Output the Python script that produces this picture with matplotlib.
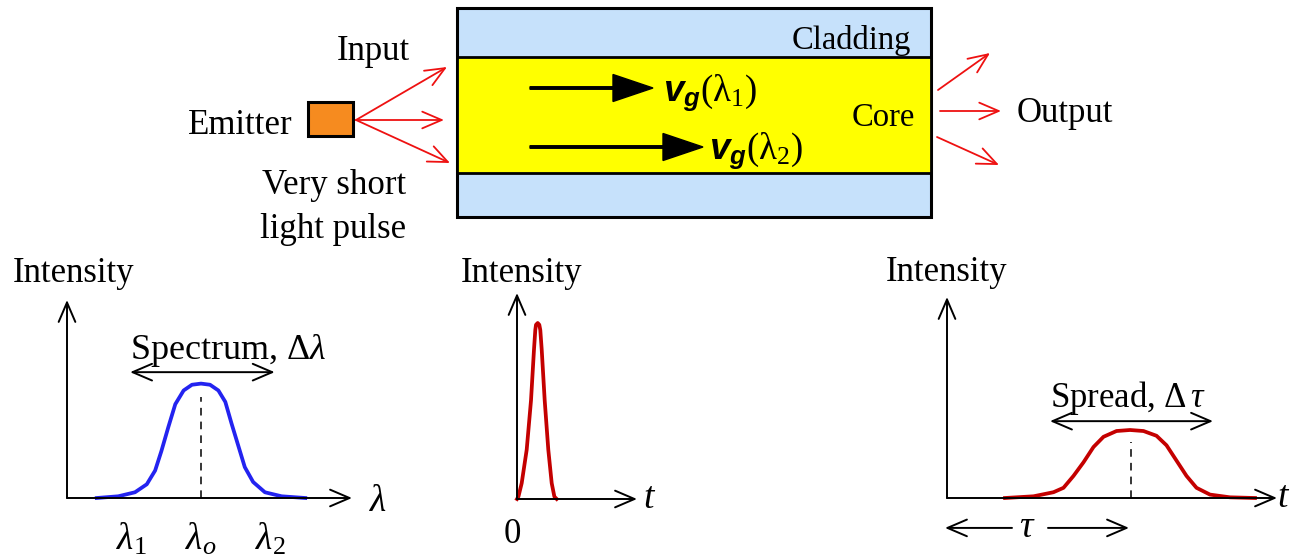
import matplotlib.pyplot as plt
from matplotlib.patches import Rectangle

plt.rcParams['font.family'] = 'Liberation Serif'
plt.rcParams['mathtext.fontset'] = 'custom'
plt.rcParams['mathtext.rm'] = 'Liberation Serif'
plt.rcParams['mathtext.it'] = 'Liberation Serif:italic'
plt.rcParams['mathtext.bf'] = 'Liberation Sans:italic:bold'

W, H = 1295, 559
FS = 25

# input spectrum: wavelength offset from lambda_o (lambda_1 = -1, lambda_2 = +1), normalised intensity
spec_wl = [-1.5, -1.19, -0.95, -0.78, -0.66, -0.57, -0.47, -0.37, -0.25, -0.13, 0.0,
           0.13, 0.25, 0.35, 0.44, 0.54, 0.63, 0.75, 0.92, 1.16, 1.5]
spec_int = [0.0, 0.015, 0.05, 0.12, 0.24, 0.41, 0.62, 0.82, 0.94, 0.99, 1.0,
            0.99, 0.94, 0.84, 0.65, 0.45, 0.27, 0.14, 0.05, 0.015, 0.0]
wl_ticks = [-1, 0, 1]
wl_tick_labels = [r'$\lambda_1$', r'$\lambda_o$', r'$\lambda_2$']

# very short input pulse, time from launch
pulse_t = [0.0, 0.07, 0.235, 0.485, 0.7, 0.85, 0.915, 0.95, 1.035, 1.115, 1.165, 1.235,
           1.385, 1.565, 1.735, 1.87, 1.985]
pulse_int = [0.0, 0.013, 0.09, 0.28, 0.56, 0.85, 0.96, 0.99, 1.0, 0.99, 0.96, 0.85,
             0.56, 0.28, 0.09, 0.013, 0.0]

# broadened output pulse, arriving after delay tau
tau = 3.68
out_t = [1.16, 1.73, 2.13, 2.33, 2.53, 2.73, 2.93, 3.13, 3.39, 3.66, 3.93, 4.19, 4.39,
         4.59, 4.79, 4.99, 5.26, 5.66, 6.16]
out_int = [0.0, 0.025, 0.085, 0.15, 0.325, 0.525, 0.75, 0.9, 0.985, 1.0, 0.985, 0.915,
           0.775, 0.55, 0.325, 0.15, 0.05, 0.01, 0.0]
spread_lo, spread_hi = 2.06, 5.32

CLAD = '#c6e1fb'
CORE = '#ffff00'
EMIT = '#f68b1f'
RAY = '#ee1111'
BLUE = '#2323f0'
DRED = '#c40000'

fig = plt.figure(figsize=(W / 100, H / 100), dpi=100)
ax = fig.add_axes([0, 0, 1, 1])
ax.set_xlim(0, W)
ax.set_ylim(H, 0)
ax.axis('off')

# fibre: cladding with core in the middle
ax.add_patch(Rectangle((457, 8), 474, 209, fc=CLAD, ec='k', lw=2.2))
ax.add_patch(Rectangle((457, 57), 474, 116, fc=CORE, ec='k', lw=2.0))
ax.text(851, 41, 'Cladding', fontsize=23.5, ha='center', va='center')
ax.text(883, 118, 'Core', fontsize=23.5, ha='center', va='center')

ax.arrow(530, 88, 123, 0, width=2.5, head_width=27, head_length=40,
         length_includes_head=True, fc='k', ec='k')
ax.arrow(530, 147, 173, 0, width=2.5, head_width=27, head_length=40,
         length_includes_head=True, fc='k', ec='k')
ax.text(663, 93, r'$\mathbf{v}_\mathbf{g}(\mathrm{\lambda}_1)$', fontsize=26.5, ha='left', va='center')
ax.text(709, 151, r'$\mathbf{v}_\mathbf{g}(\mathrm{\lambda}_2)$', fontsize=26.5, ha='left', va='center')

# emitter and launched rays
ax.add_patch(Rectangle((308, 102), 45, 34, fc=EMIT, ec='k', lw=2.2))
ray = dict(arrowstyle='->,head_length=0.7,head_width=0.3', color=RAY, lw=1.3,
           shrinkA=0, shrinkB=0, mutation_scale=20)
for tip in [(447, 67), (444, 120), (450, 163)]:
    ax.annotate('', xy=tip, xytext=(356, 120), arrowprops=ray)
for start, tip in [((938, 90), (990, 53)), ((940, 111), (1001, 111)),
                   ((937, 137), (999, 165))]:
    ax.annotate('', xy=tip, xytext=start, arrowprops=ray)

ax.text(373, 52, 'Input', fontsize=FS, ha='center', va='center')
ax.text(293, 126, 'Emitter', fontsize=FS, ha='right', va='center')
ax.text(334, 186, 'Very short', fontsize=FS, ha='center', va='center')
ax.text(333, 229, 'light pulse', fontsize=FS, ha='center', va='center')
ax.text(1017, 114, 'Output', fontsize=FS, ha='left', va='center')

axis_arrow = dict(arrowstyle='->,head_length=0.7,head_width=0.3', color='k', lw=1.4,
                  shrinkA=0, shrinkB=0, mutation_scale=20)
dbl_arrow = dict(arrowstyle='<->,head_length=0.7,head_width=0.3', color='k', lw=1.4,
                 shrinkA=0, shrinkB=0, mutation_scale=20)


def panel(px0, px1, py_base, py_top, px_origin, x_scale, y_scale):
    # small axes whose data units map onto the given pixel box
    a = fig.add_axes([px0 / W, (H - py_base) / H, (px1 - px0) / W, (py_base - py_top) / H])
    a.set_xlim((px0 - px_origin) / x_scale, (px1 - px_origin) / x_scale)
    a.set_ylim(0, (py_base - py_top) / y_scale)
    a.axis('off')
    a.annotate('', xy=(1, 0), xytext=(0, 0), xycoords='axes fraction', arrowprops=axis_arrow)
    a.annotate('', xy=(0, 1), xytext=(0, 0), xycoords='axes fraction', arrowprops=axis_arrow)
    return a


# input spectrum
a1 = panel(67, 352, 498, 300, 201, 69.5, 114.4)
a1.plot(spec_wl, spec_int, color=BLUE, lw=2.7, clip_on=False, solid_joinstyle='round')
a1.plot([0, 0], [0, 0.88], color='k', lw=1.1, ls=(0, (5, 4)))
a1.annotate('', xy=(1.06, 1.10), xytext=(-1.02, 1.10), arrowprops=dbl_arrow)
a1.text(0.39, 1.29, r'Spectrum, $\mathrm{\Delta}\lambda$', fontsize=26, ha='center', va='center')
a1.text(-1.84, 1.96, 'Intensity', fontsize=FS, ha='center', va='center')
a1.text(2.55, -0.03, r'$\lambda$', fontsize=27, ha='center', va='center')
for x, lab in zip(wl_ticks, wl_tick_labels):
    a1.text(x, -0.36, lab, fontsize=27, ha='center', va='center')

# launched pulse
a2 = panel(517, 637, 499, 293, 517, 20, 176)
a2.plot(pulse_t, pulse_int, color=DRED, lw=2.7, clip_on=False, solid_joinstyle='round')
a2.text(0.25, 1.28, 'Intensity', fontsize=FS, ha='center', va='center')
a2.text(6.65, 0.0, r'$t$', fontsize=27, ha='center', va='center')
a2.text(-0.25, -0.2, '0', fontsize=FS, ha='center', va='center')

# dispersed output pulse
a3 = panel(947, 1277, 498, 297, 947, 50, 68)
a3.plot(out_t, out_int, color=DRED, lw=2.7, clip_on=False, solid_joinstyle='round')
a3.plot([tau, tau], [0, 0.83], color='k', lw=1.1, ls=(0, (5, 4)))
a3.annotate('', xy=(spread_hi, 1.13), xytext=(spread_lo, 1.13), arrowprops=dbl_arrow)
a3.text(3.62, 1.47, r'Spread, $\mathrm{\Delta}\,\tau$', fontsize=FS, ha='center', va='center')
a3.text(0.0, 3.31, 'Intensity', fontsize=FS, ha='center', va='center')
a3.text(6.74, 0.0, r'$t$', fontsize=27, ha='center', va='center')
a3.annotate('', xy=(-0.04, -0.44), xytext=(1.3, -0.44), arrowprops=axis_arrow, annotation_clip=False)
a3.annotate('', xy=(tau - 0.04, -0.44), xytext=(2.02, -0.44), arrowprops=axis_arrow, annotation_clip=False)
a3.text(1.6, -0.44, r'$\tau$', fontsize=27, ha='center', va='center')

fig.savefig('out.png', dpi=100)
